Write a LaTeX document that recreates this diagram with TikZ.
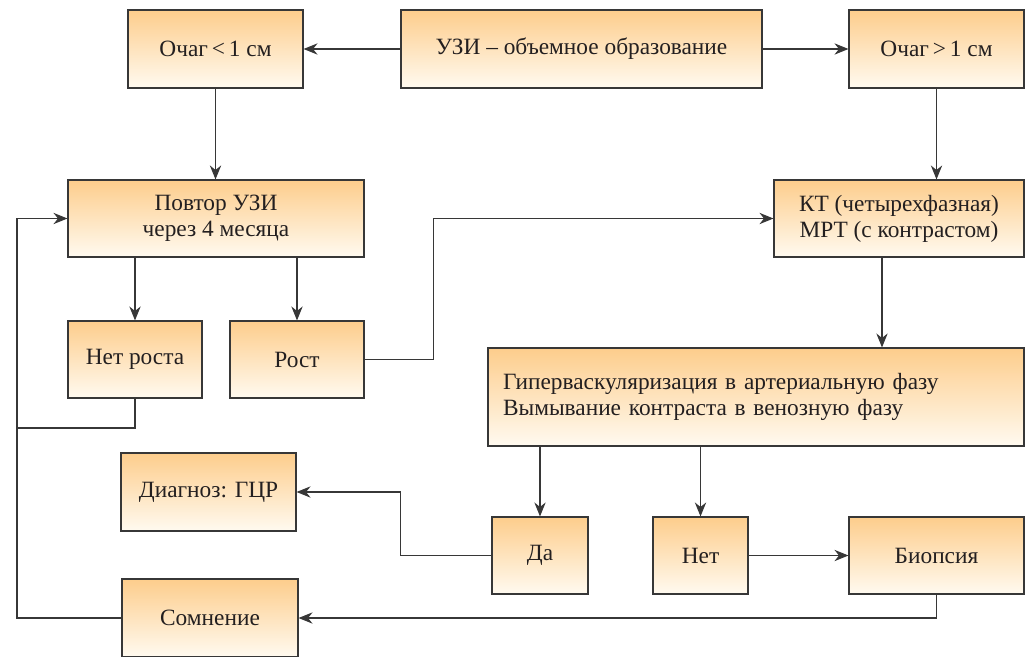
\documentclass[tikz,border=0pt]{standalone}
\usepackage{fontspec}
\setmainfont{Liberation Serif}
\usepackage{tikz}
\usetikzlibrary{arrows.meta,calc}
\usepackage{xcolor}
\definecolor{boxtop}{RGB}{253,205,140}
\definecolor{boxbot}{RGB}{255,250,240}
\definecolor{edgegrey}{RGB}{55,55,55}
\definecolor{inkdark}{RGB}{35,31,32}
\tikzset{
  blok/.style 2 args={draw=edgegrey, line width=0.85pt, top color=boxtop, bottom color=boxbot,
    minimum width=#1*0.75pt, minimum height=#2*0.75pt, inner sep=2pt,
    align=center, text=inkdark, font=\rmfamily\fontsize{17.5}{19.5}\selectfont},
  link/.style={draw=edgegrey, line width=0.8pt},
  pijl/.style={link, -{Stealth[length=10.5pt,width=8.5pt]}}
}

\begin{document}
\begin{tikzpicture}[x=0.75pt, y=-0.75pt]
        \useasboundingbox (0,0) rectangle (1030,656);
        % Top row
        \node[blok={175}{78}] (ochagA) at (215.5,49) {Очаг\,<\,1 см};
        \node[blok={361}{78}] (uzi) at (581.5,49) {УЗИ – объемное образование};
        \node[blok={175}{78}] (ochagB) at (936.5,49) {Очаг\,>\,1 см};
        % Second row
        \node[blok={296}{77}] (povtor) at (216,218.5) {Повтор УЗИ\\через 4 месяца};
        \node[blok={250}{77}] (kt) at (899,218.5) {КТ (четырехфазная)\\МРТ (с контрастом)};
        % Growth
        \node[blok={134}{77}] (netrosta) at (135,359.5) {Нет роста};
        \node[blok={134}{77}] (rost) at (297,359.5) {Рост};
        % Enhancement pattern
        \node[blok={536}{98}, align=left, inner xsep=11.25pt, text width=506*0.75pt]
          (giper) at (756,397)
          {Гиперваскуляризация в артериальную фазу\\Вымывание контраста в венозную фазу};
        % Outcomes
        \node[blok={175}{78}] (diag) at (208.5,492) {Диагноз: ГЦР};
        \node[blok={96}{77}] (da) at (540,555.5) {Да};
        \node[blok={95}{77}] (net) at (700.5,555.5) {Нет};
        \node[blok={175}{77}] (biopsy) at (936.5,555.5) {Биопсия};
        \node[blok={176}{78}] (somn) at (210,618) {Сомнение};
        % Helper points
        \coordinate (lft) at (17,428);
        \coordinate (ktdn) at (882,257);
        % Arrows
        \draw[pijl] (uzi.west) -- (ochagA.east);
        \draw[pijl] (uzi.east) -- (ochagB.west);
        \draw[pijl] (ochagA.south) -- (ochagA.south |- povtor.north);
        \draw[pijl] (ochagB.south) -- (ochagB.south |- kt.north);
        \draw[pijl] (netrosta.north |- povtor.south) -- (netrosta.north);
        \draw[pijl] (rost.north |- povtor.south) -- (rost.north);
        \draw[pijl] (rost.east) -- ++(69,0) |- (kt.west);
        \draw[pijl] (ktdn) -- (ktdn |- giper.north);
        \draw[pijl] (da.north |- giper.south) -- (da.north);
        \draw[pijl] (net.north |- giper.south) -- (net.north);
        \draw[pijl] (da.west) -- ++(-91,0) |- (diag.east);
        \draw[pijl] (net.east) -- (biopsy.west);
        \draw[pijl] (biopsy.south) |- (somn.east);
        % Loop back to repeat
        \draw[link] (netrosta.south) |- (lft);
        \draw[pijl] (somn.west) -| (lft) |- (povtor.west);
      \end{tikzpicture}
\end{document}
